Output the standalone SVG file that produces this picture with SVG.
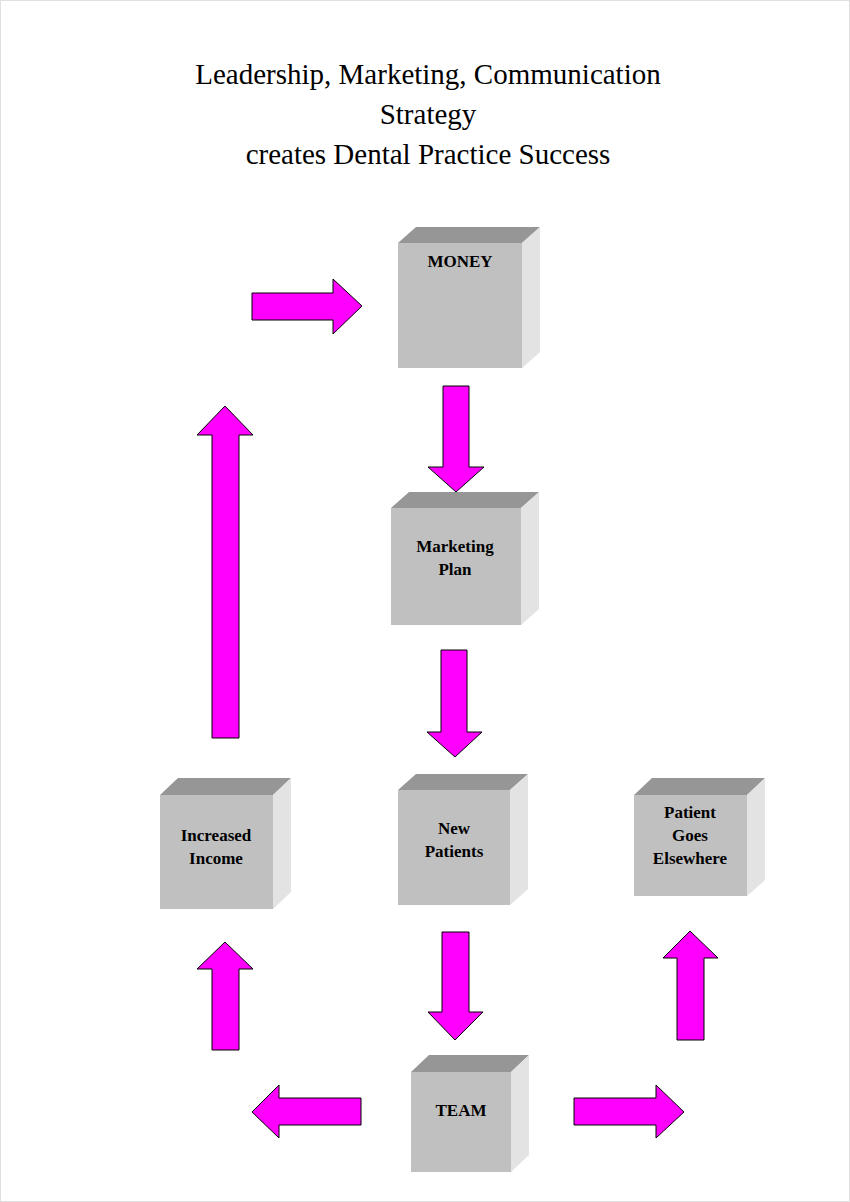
<svg xmlns="http://www.w3.org/2000/svg" width="850" height="1202" viewBox="0 0 850 1202">
<style>
.front{fill:#c0c0c0}.top{fill:#969696}.side{fill:#e3e3e3}
.arr{fill:#ff00ff;stroke:#000;stroke-width:1}
.lbl{font-family:"Liberation Serif",serif;font-weight:bold;font-size:17px;text-anchor:middle;fill:#000}
.title{font-family:"Liberation Serif",serif;font-size:29px;text-anchor:middle;fill:#000}
</style>
<rect x="0.5" y="0.5" width="849" height="1201" fill="#fff" stroke="#e0e0e0"/>
<g id="title">
<text class="title" x="428" y="84">Leadership, Marketing, Communication</text>
<text class="title" x="428" y="124">Strategy</text>
<text class="title" x="428" y="164">creates Dental Practice Success</text>
</g>
<g id="money">
<polygon class="top" points="398,243 416,227 540,227 522,243"/>
<polygon class="side" points="522,243 540,227 540,352 522,368"/>
<rect class="front" x="398" y="243" width="124" height="125"/>
<text class="lbl" x="460" y="267">MONEY</text>
</g>
<g id="marketing">
<polygon class="top" points="391,508 409,492 539,492 521,508"/>
<polygon class="side" points="521,508 539,492 539,609 521,625"/>
<rect class="front" x="391" y="508" width="130" height="117"/>
<text class="lbl" x="455" y="552">Marketing</text>
<text class="lbl" x="455" y="575">Plan</text>
</g>
<g id="newpatients">
<polygon class="top" points="398,790 416,774 528,774 510,790"/>
<polygon class="side" points="510,790 528,774 528,889 510,905"/>
<rect class="front" x="398" y="790" width="112" height="115"/>
<text class="lbl" x="454" y="834">New</text>
<text class="lbl" x="454" y="857">Patients</text>
</g>
<g id="income">
<polygon class="top" points="160,795 178,778 291,778 273,795"/>
<polygon class="side" points="273,795 291,778 291,892 273,909"/>
<rect class="front" x="160" y="795" width="113" height="114"/>
<text class="lbl" x="216" y="841">Increased</text>
<text class="lbl" x="216" y="864">Income</text>
</g>
<g id="elsewhere">
<polygon class="top" points="634,795 652,778 765,778 747,795"/>
<polygon class="side" points="747,795 765,778 765,880 747,896"/>
<rect class="front" x="634" y="795" width="113" height="101"/>
<text class="lbl" x="690" y="818">Patient</text>
<text class="lbl" x="690" y="841">Goes</text>
<text class="lbl" x="690" y="864">Elsewhere</text>
</g>
<g id="team">
<polygon class="top" points="411,1072 429,1055 529,1055 511,1072"/>
<polygon class="side" points="511,1072 529,1055 529,1155 511,1172"/>
<rect class="front" x="411" y="1072" width="100" height="100"/>
<text class="lbl" x="461" y="1116">TEAM</text>
</g>
<g id="connectors">
<polygon class="arr" points="252,293 333,293 333,279 362,306 333,334 333,320 252,320"/>
<polygon class="arr" points="443,386 469,386 469,467 484,467 456,492 428,467 443,467"/>
<polygon class="arr" points="441,650 467,650 467,732 482,732 455,757 427,732 441,732"/>
<polygon class="arr" points="212,738 212,435 197,435 225,406 253,435 239,435 239,738"/>
<polygon class="arr" points="442,932 469,932 469,1012 483,1012 455,1040 428,1012 442,1012"/>
<polygon class="arr" points="212,1050 212,969 197,969 225,942 253,969 239,969 239,1050"/>
<polygon class="arr" points="677,1040 677,958 663,958 690,931 718,958 704,958 704,1040"/>
<polygon class="arr" points="361,1098 279,1098 279,1085 252,1112 279,1138 279,1125 361,1125"/>
<polygon class="arr" points="574,1098 656,1098 656,1085 684,1112 656,1138 656,1125 574,1125"/>
</g>
</svg>
